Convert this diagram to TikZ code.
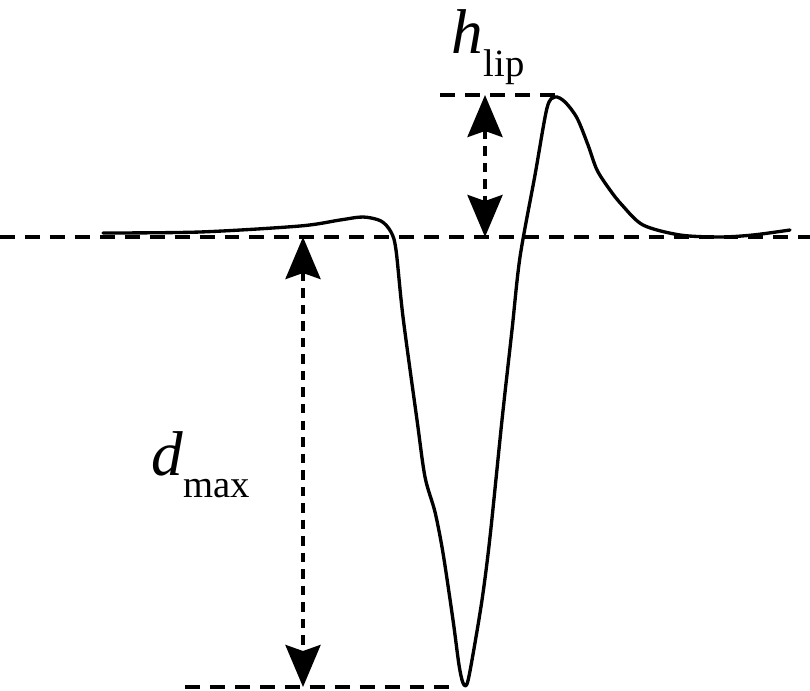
\documentclass[tikz,border=0pt]{standalone}
\usepackage{fontspec}
\setmainfont{Liberation Serif}
\usetikzlibrary{arrows.meta,positioning}

\begin{document}
\begin{tikzpicture}[line join=round,x=0.02cm,y=-0.02cm,
  guide/.style={line width=2.3pt,dash pattern=on 8.5pt off 5.7pt},
  measure/.style={line width=2.3pt,dash pattern=on 5.4pt off 4pt,
    {Stealth[length=0.84cm,width=0.7cm,inset=0.12cm]}-{Stealth[length=0.84cm,width=0.7cm,inset=0.12cm]}},
  profile/.style={line width=1.9pt,line cap=round},
  symb/.style={inner sep=0pt,anchor=base west,font=\fontsize{36}{40}\selectfont\itshape},
  subs/.style={inner sep=0pt,anchor=base west,font=\fontsize{22}{24}\selectfont}]
\useasboundingbox (0,0) rectangle (810,690);
% levels
\draw[guide] (0,237) -- (810,237);
\draw[guide] (440,95) -- (555,95);
\draw[guide] (185,687) -- (455,687);
% crater profile
\draw[profile] plot[smooth,tension=0.5] coordinates {(103,233) (200,232) (300,226) (340,220) (363,217) (381,221)
  (391,232) (396,250) (403,317) (417,420) (425,477) (435,512) (443,553) (453,620) (459,665) (463,683)
  (467,684) (472,660) (482,600) (490,537) (502,420) (512,330) (520,257) (535,175) (547,108) (555,97)
  (565,102) (577,118) (588,145) (597,170) (610,190) (622,205) (643,225) (680,235) (720,237) (753,235) (790,230)};
% measures
\coordinate (lipTop) at (485,95);
\coordinate (lipBase) at (485,237);
\coordinate (pitTop) at (303,237);
\coordinate (pitBottom) at (303,687);
\draw[measure] (lipTop) -- (lipBase);
\draw[measure] (pitTop) -- (pitBottom);
% labels
\node[symb] (h) at (451,53) {h};
\node[subs] (hsub) at ([yshift=-0.48cm]h.base east) {lip};
\node[symb] (d) at (151,475) {d};
\node[subs] (dsub) at ([yshift=-0.44cm]d.base east) {max};
\end{tikzpicture}
\end{document}
